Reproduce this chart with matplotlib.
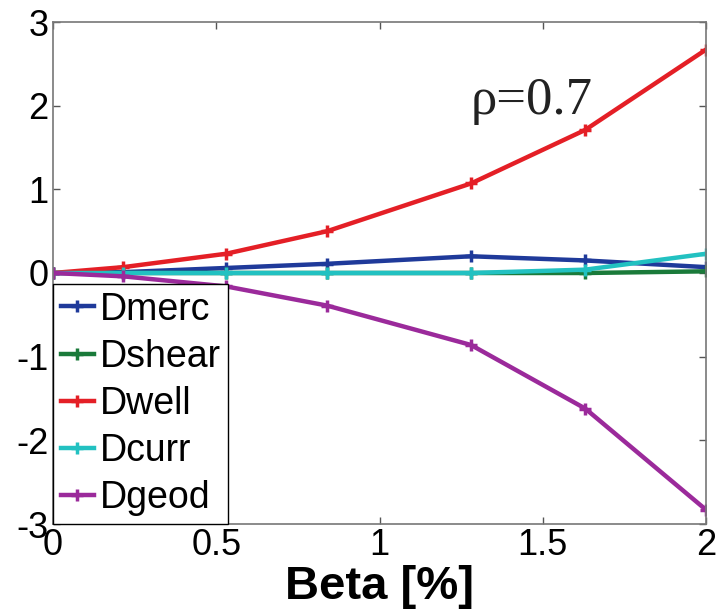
import matplotlib
matplotlib.use("Agg")
import matplotlib.pyplot as plt

beta = [0.0, 0.215, 0.53, 0.84, 1.28, 1.63, 2.0]
dmerc = [0.0, 0.01, 0.06, 0.11, 0.20, 0.15, 0.07]
dshear = [0.0, 0.0, 0.0, 0.0, 0.0, 0.0, 0.02]
dwell = [0.0, 0.07, 0.23, 0.50, 1.07, 1.71, 2.67]
dcurr = [0.0, 0.0, 0.0, 0.0, 0.0, 0.04, 0.23]
dgeod = [0.0, -0.04, -0.16, -0.39, -0.86, -1.62, -2.83]

series = [("Dmerc", dmerc, "#1f3a9a"),
          ("Dshear", dshear, "#1a7a3a"),
          ("Dwell", dwell, "#e41f26"),
          ("Dcurr", dcurr, "#22c1c1"),
          ("Dgeod", dgeod, "#9b2a9b")]

xticks = [0, 0.5, 1, 1.5, 2]
xticklabels = ["0", "0.5", "1", "1.5", "2"]
yticks = [-3, -2, -1, 0, 1, 2, 3]
yticklabels = ["-3", "-2", "-1", "0", "1", "2", "3"]

plt.rcParams['font.family'] = ['Liberation Sans', 'DejaVu Sans']
fig = plt.figure(figsize=(7.16, 6.15), dpi=100)
ax = fig.add_axes([53/716, 1-524/615, (706-53)/716, (524-22)/615])

for name, vals, col in series:
    ax.plot(beta, vals, color=col, lw=3.2, marker='+', ms=9, mew=2.5, label=name)

ax.set_xlim(0, 2)
ax.set_ylim(-3, 3)
ax.set_xticks(xticks)
ax.set_xticklabels(xticklabels)
ax.set_yticks(yticks)
ax.set_yticklabels(yticklabels)
ax.tick_params(direction='in', length=5, width=1, labelsize=26, top=True, right=True, pad=3, colors='#555555', labelcolor='black')
for s in ax.spines.values():
    s.set_color('#777777')
    s.set_linewidth(1.2)

ax.set_xlabel("Beta [%]", fontsize=34, fontweight='bold', labelpad=1)
ax.text(1.28, 1.9, "ρ=0.7", fontsize=38, family=['Liberation Serif', 'DejaVu Serif'], color='#222222')

leg = ax.legend(loc='lower left', fontsize=27, handlelength=0.9, handletextpad=0.15,
                labelspacing=0.3, borderpad=0.2, borderaxespad=0.0, fancybox=False,
                frameon=True, edgecolor='black', framealpha=1)
leg.get_frame().set_linewidth(1.0)

fig.savefig("out.png", dpi=100)
